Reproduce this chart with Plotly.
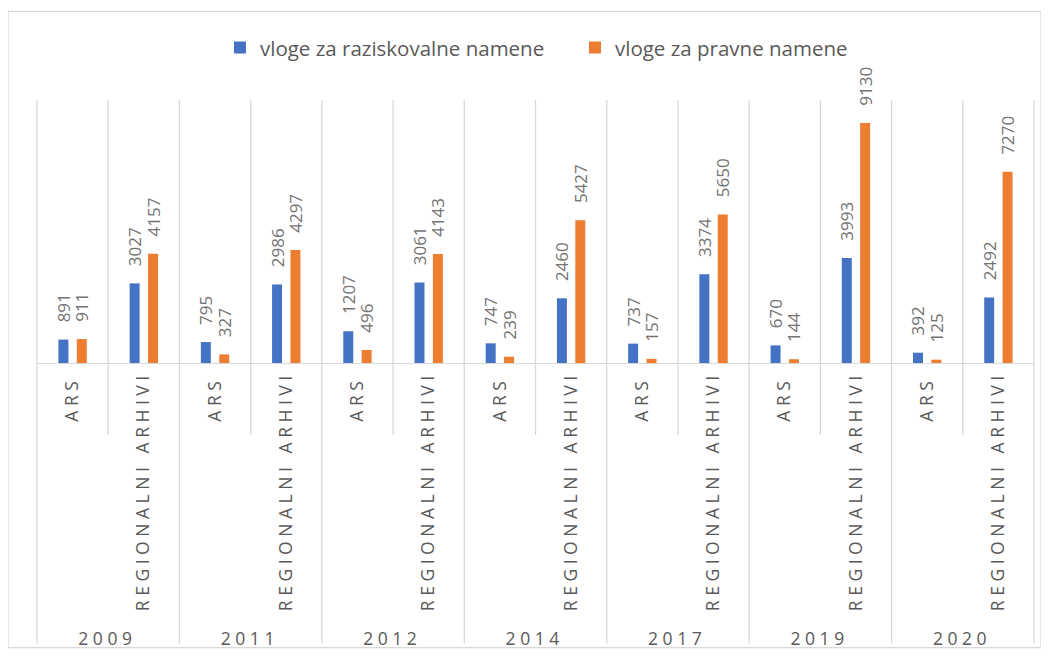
import plotly.graph_objects as go

years = ["2009", "2011", "2012", "2014", "2017", "2019", "2020"]
subcats = ["ARS", "REGIONALNI ARHIVI"]
raziskovalne = [891, 3027, 795, 2986, 1207, 3061, 747, 2460, 737, 3374, 670, 3993, 392, 2492]
pravne = [911, 4157, 327, 4297, 496, 4143, 239, 5427, 157, 5650, 144, 9130, 125, 7270]
series_names = ["vloge za raziskovalne namene", "vloge za pravne namene"]
colors = ["#4472C4", "#ED7D31"]

# invisible spacer text (keeps a gap between bar/axis and the rotated labels)
HIDE = "<span style='color:rgba(0,0,0,0)'>%s</span>"


def spaced(s):
    words = s.split(" ")
    return " \u00a0 ".join(" ".join(list(w)) for w in words)


inner_pad = {"ARS": HIDE % "0", "REGIONALNI ARHIVI": HIDE % "."}

outer = []
inner = []
for y in years:
    for s in subcats:
        outer.append(spaced(y))
        inner.append(spaced(s) + inner_pad[s])

FONT = "Open Sans"
TXT = "#595959"
LBL = "#737373"
PAD = HIDE % "0."

# the page adds an 8px body margin; figure coords = page coords - 8
OFF = 8
W, H = 1049 - OFF, 661 - OFF
PL, PR, PT, PB = 37, 1034, 100, 367  # plot area in page pixels

fig = go.Figure()
for name, vals, col in zip(series_names, [raziskovalne, pravne], colors):
    fig.add_trace(go.Bar(
        x=[outer, inner], y=vals, name=name,
        marker=dict(color=col, line=dict(width=0)),
        text=[PAD + str(v) for v in vals],
        textposition="outside", textangle=-90, constraintext="none",
        cliponaxis=False,
        textfont=dict(family=FONT, size=17, color=LBL),
    ))


def px(xp):
    return (xp - PL) / float(PR - PL)


def py(yp):
    return (PB - yp) / float(PB - PT)


shapes = []
n = len(years) * len(subcats)
for k in range(n + 1):
    xk = k / n
    y0 = py(652) if k % 2 == 0 else py(440)
    shapes.append(dict(type="line", xref="paper", yref="paper", x0=xk, x1=xk,
                       y0=y0, y1=1, line=dict(color="#d9d9d9", width=1.3), layer="below"))
shapes.append(dict(type="rect", xref="paper", yref="paper", x0=px(8), x1=px(1041),
                   y0=py(656), y1=py(10), line=dict(color="#d9d9d9", width=1.3), layer="below"))

fig.update_layout(
    width=W, height=H,
    margin=dict(l=PL - OFF, r=W - (PR - OFF), t=PT - OFF, b=H - (PB - OFF)),
    paper_bgcolor="white", plot_bgcolor="white",
    barmode="group", bargap=0.484, bargroupgap=0.457,
    font=dict(family=FONT, color=TXT),
    showlegend=True,
    legend=dict(orientation="h", x=0.5396, xanchor="center", y=py(47), yanchor="middle",
                font=dict(family=FONT, size=20.5, color=TXT), entrywidth=310,
                bgcolor="rgba(0,0,0,0)"),
    shapes=shapes,
)
fig.update_xaxes(type="multicategory", showgrid=False, showline=True, linecolor="#d9d9d9",
                 linewidth=1.3, showdividers=False, tickangle=-90,
                 tickfont=dict(family=FONT, size=17.5, color=TXT))
fig.update_yaxes(range=[0, 10000], visible=False, showgrid=False, zeroline=False)

fig.write_html("out.html")
